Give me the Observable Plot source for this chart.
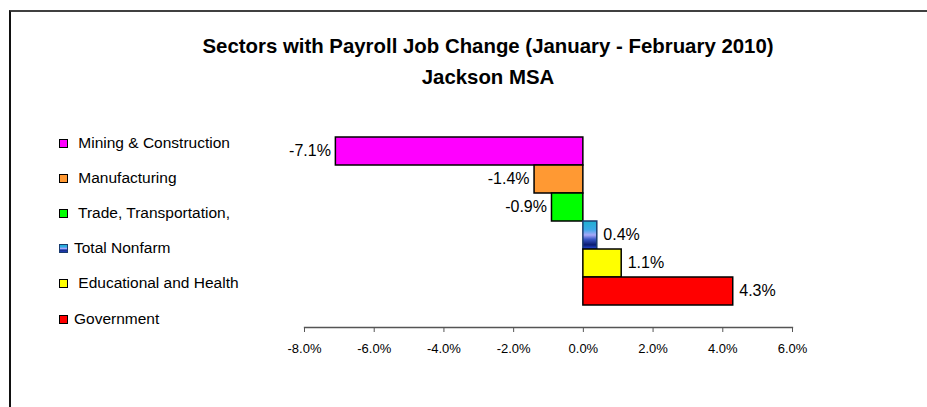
<!DOCTYPE html>
<html>
<head>
<meta charset="utf-8">
<script src="https://cdn.jsdelivr.net/npm/d3@7"></script>
<script src="https://cdn.jsdelivr.net/npm/@observablehq/plot@0.6"></script>
<style>
  html, body { margin: 0; padding: 0; background: #fff; }
  #wrap { position: relative; width: 927px; height: 407px; overflow: hidden; font-family: "Liberation Sans", Arial, sans-serif; }
  #border { position: absolute; left: 9px; top: 10px; right: 0; bottom: -5px; border-top: 2px solid #404040; border-left: 2px solid #111; }
  #chart { position: absolute; left: 0; top: 0; }
  .title { position: absolute; left: 0; width: 976px; text-align: center; font-weight: bold; font-size: 20.4px; line-height: 23px; color: #000; white-space: nowrap; }
  #legend { position: absolute; left: 0; top: 0; }
  .item { position: absolute; left: 59px; height: 18px; display: flex; align-items: center; font-size: 15.5px; color: #000; white-space: pre; }
  .sw { width: 7px; height: 7px; border: 1px solid #000; margin-right: 6px; box-sizing: content-box; }
</style>
</head>
<body>
<div id="wrap">
  <div id="border"></div>
  <div id="chart"></div>
  <div class="title" style="top:35px">Sectors with Payroll Job Change (January - February 2010)</div>
  <div class="title" style="top:66px">Jackson MSA</div>
  <div id="legend"></div>
</div>
<script>
// Data
const sectors = [" Mining & Construction", " Manufacturing", " Trade, Transportation,", "Total Nonfarm", " Educational and Health", "Government"];
const changes = [-7.1, -1.4, -0.9, 0.4, 1.1, 4.3];
const xTicks = [-8, -6, -4, -2, 0, 2, 4, 6];

// Styles
const sectorFill = {
  " Mining & Construction": "#FF00FF",
  " Manufacturing": "#FF9933",
  " Trade, Transportation,": "#00FF00",
  "Total Nonfarm": "url(#tnGrad)",
  " Educational and Health": "#FFFF00",
  "Government": "#FF0000"
};
const sectorStroke = {"Total Nonfarm": "#1a3c6e"};

const data = sectors.map((s, i) => ({sector: s, value: changes[i]}));
const fmt = v => v.toFixed(1) + "%";

const plot = Plot.plot({
  width: 927,
  height: 407,
  marginTop: 136,
  marginBottom: 80,
  marginLeft: 304,
  marginRight: 135,
  style: {fontFamily: "'Liberation Sans', Arial, sans-serif", fontSize: "13px", color: "#000", background: "transparent"},
  x: {domain: [-8, 6], axis: null},
  y: {domain: sectors, padding: 0, insetBottom: 21, axis: null},
  color: {type: "identity"},
  marks: [
    Plot.barX(data, {
      x1: 0, x2: "value", y: "sector",
      fill: d => sectorFill[d.sector],
      stroke: d => sectorStroke[d.sector] || "#000",
      strokeWidth: 1.5
    }),
    Plot.text(data.filter(d => d.value < 0), {
      x: "value", y: "sector",
      text: d => fmt(d.value),
      textAnchor: "end", dx: -5, dy: -1,
      fontSize: 16, fill: "#000"
    }),
    Plot.text(data.filter(d => d.value >= 0), {
      x: "value", y: "sector",
      text: d => fmt(d.value),
      textAnchor: "start", dx: 6, dy: -1,
      fontSize: 16, fill: "#000"
    }),
    Plot.frame({anchor: "bottom", stroke: "#555", strokeWidth: 1.3}),
    Plot.axisX({ticks: xTicks, tickFormat: fmt, tickSize: 5, tickPadding: 11, stroke: "#555", fill: "#000", fontSize: 13, label: null})
  ]
});

// Gradient for Total Nonfarm
const ns = "http://www.w3.org/2000/svg";
function addGrad(svg) {
  const defs = document.createElementNS(ns, "defs");
  const g = document.createElementNS(ns, "linearGradient");
  g.setAttribute("id", "tnGrad");
  g.setAttribute("x1", "0"); g.setAttribute("y1", "0");
  g.setAttribute("x2", "0"); g.setAttribute("y2", "1");
  [[0, "#1fb0d0"], [0.3, "#3aa8e8"], [0.5, "#a8a8f8"], [0.65, "#3a58c8"], [0.85, "#0a1c70"], [1, "#2a50e0"]].forEach(([o, c]) => {
    const s = document.createElementNS(ns, "stop");
    s.setAttribute("offset", o); s.setAttribute("stop-color", c);
    g.appendChild(s);
  });
  defs.appendChild(g);
  svg.insertBefore(defs, svg.firstChild);
}
addGrad(plot);
document.getElementById("chart").appendChild(plot);

// Legend
const legendY = [143, 178, 213, 248, 283, 319];
const legend = document.getElementById("legend");
sectors.forEach((s, i) => {
  const it = document.createElement("div");
  it.className = "item";
  it.style.top = (legendY[i] - 9) + "px";
  const sw = document.createElement("div");
  sw.className = "sw";
  if (s === "Total Nonfarm") {
    sw.style.background = "linear-gradient(#1fb0d0, #3aa8e8 30%, #a8a8f8 50%, #3a58c8 65%, #0a1c70 85%, #2a50e0)";
    sw.style.borderColor = "#1a3c6e";
  } else {
    sw.style.background = sectorFill[s];
  }
  const tx = document.createElement("span");
  tx.textContent = s;
  it.appendChild(sw); it.appendChild(tx);
  legend.appendChild(it);
});
</script>
</body>
</html>
